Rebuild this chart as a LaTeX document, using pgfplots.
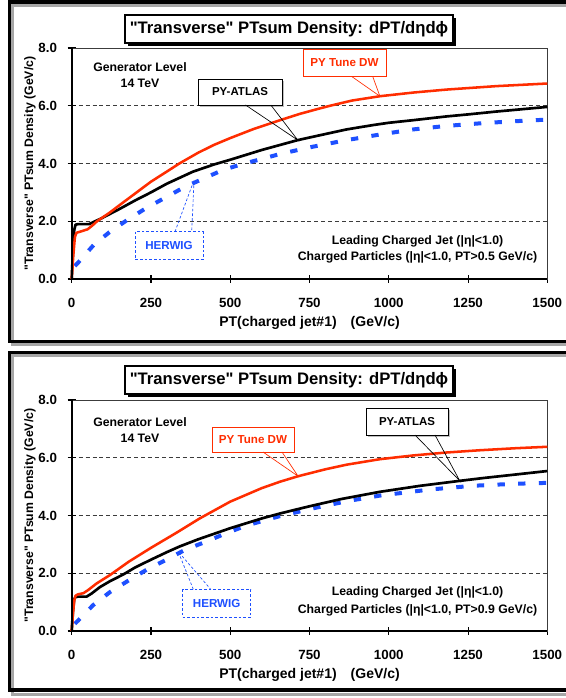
\documentclass[border=0pt]{standalone}
\usepackage{pgfplots}
\pgfplotsset{compat=1.18}
\usepackage{fontspec}
\setmainfont{Liberation Sans}[Ligatures=TeXOff]
\definecolor{dwred}{RGB}{255,45,0}
\definecolor{hwblue}{RGB}{30,80,255}
\definecolor{gridgray}{RGB}{60,60,60}

\pgfplotsset{
  ptaxis/.style={
    scale only axis,
    width=356.7pt, height=173.25pt,
    xmin=0, xmax=1500, ymin=0, ymax=8,
    xtick={0,250,500,750,1000,1250,1500},
    ytick={0,2,4,6,8},
    /pgf/number format/assume math mode=true,
    yticklabel style={/pgf/number format/fixed, /pgf/number format/fixed zerofill, /pgf/number format/precision=1, xshift=-4.5pt},
    xticklabel style={/pgf/number format/fixed, /pgf/number format/1000 sep={}, yshift=-8pt},
    tick label style={font=\fontsize{10}{12}\selectfont\bfseries},
    tick pos=left,
    tick align=center,
    major tick length=6pt,
    tick style={black, line width=0.8pt},
    axis line style={gridgray, line width=0.7pt},
    ymajorgrids,
    grid style={gridgray, line width=0.6pt, dash pattern=on 3pt off 2.2pt},
    xlabel={PT(charged jet\#1)\quad(GeV/c)},
    ylabel={"Transverse" PTsum Density (GeV/c)},
    xlabel style={font=\fontsize{10.5}{12}\selectfont\bfseries, at={(axis description cs:0.5,0)}, anchor=center, yshift=-33pt},
    ylabel style={font=\fontsize{9.2}{11}\selectfont\bfseries, at={([xshift=-31.3pt]axis description cs:0,0.5)}, anchor=center},
    clip=false,
    after end axis/.code={
      \draw[black, line width=1.6pt] (rel axis cs:0,1) -- (rel axis cs:0,0) -- (rel axis cs:1,0);
    },
  },
  atlas/.style={black, line width=2pt, line join=round},
  dw/.style={dwred, line width=1.9pt, line join=round},
  herwig/.style={hwblue, line width=3pt, dash pattern=on 5.5pt off 10pt},
}

\begin{document}
\begin{tikzpicture}[x=0.75pt,y=0.75pt]
\useasboundingbox (0,0) rectangle (566,698);
\fill[white] (0,0) rectangle (566,698);

% panel frames
\draw[gray!70, line width=2.6pt] (12.5,693) rectangle (580,353.5);
\draw[black, line width=2.8pt] (9.5,696.2) rectangle (578,356.5);
\draw[gray!70, line width=2.6pt] (12.5,342.5) rectangle (580,3.5);
\draw[black, line width=2.8pt] (9.5,345.5) rectangle (578,8);

% ---------------- top panel ----------------
\begin{axis}[ptaxis, at={(53.775pt,314.25pt)}, anchor=south west]
\addplot[herwig] coordinates {
(10,0.45) (23,0.6) (71,1.2) (119,1.62) (176,2.05) (234,2.45) (292,2.8) (355,3.18)
(418,3.49) (478,3.78) (541,3.99) (604,4.17) (657,4.33) (760,4.58) (867,4.81)
(970,5.0) (1077,5.18) (1180,5.3) (1287,5.39) (1390,5.46) (1500,5.52)};
\addplot[atlas] coordinates {
(0,0) (4,1.0) (8,1.7) (12,1.88) (20,1.9) (55,1.9) (70,1.98) (90,2.08) (120,2.25)
(150,2.42) (200,2.72) (250,3.0) (300,3.3) (383,3.72) (450,3.97) (500,4.13) (600,4.47)
(713,4.81) (800,5.02) (867,5.18) (950,5.33) (1000,5.41) (1077,5.5) (1182,5.63)
(1250,5.7) (1340,5.8) (1420,5.88) (1500,5.96)};
\addplot[dw] coordinates {
(0,0) (5,0.8) (10,1.45) (15,1.6) (30,1.65) (50,1.72) (65,1.85) (80,2.0) (120,2.3)
(150,2.55) (200,2.96) (250,3.37) (300,3.72) (341,4.01) (400,4.38) (450,4.65) (500,4.88)
(575,5.2) (657,5.5) (720,5.72) (780,5.9) (815,6.0) (884,6.18) (972,6.33) (1080,6.46)
(1182,6.56) (1340,6.68) (1500,6.77)};
\coordinate (tDW1) at (axis cs:972,6.33);
\coordinate (tAT1) at (axis cs:713,4.81);
\coordinate (tHW1) at (axis cs:386,3.43);
\end{axis}

% title box top
\fill[black] (128,680) rectangle (456,652);
\filldraw[fill=white, draw=black, line width=0.8pt] (125,683) rectangle (453,655);
\node at (289,668.5) {\fontsize{12.5}{15}\selectfont\bfseries "Transverse" PTsum Density: dPT/dηdϕ};

\node at (140,631) {\fontsize{9.2}{11}\selectfont\bfseries Generator Level};
\node at (140,615) {\fontsize{9.2}{11}\selectfont\bfseries 14 TeV};
\node at (417.5,457) {\fontsize{9.2}{11}\selectfont\bfseries Leading Charged Jet (|η|<1.0)};
\node at (417.5,441) {\fontsize{9.2}{11}\selectfont\bfseries Charged Particles (|η|<1.0, PT>0.5 GeV/c)};

% callouts top
\filldraw[fill=white, draw=dwred, line width=0.6pt] (303,648.5) rectangle (386,621.5);
\node[text=dwred] at (344.5,635) {\fontsize{8.7}{10}\selectfont\bfseries PY Tune DW};
\draw[dwred, line width=0.5pt] (351.7,621.5) -- (tDW1) -- (372.7,621.5);

\fill[gray!50] (200,617) rectangle (284,591);
\filldraw[fill=white, draw=black, line width=0.6pt] (198,619) rectangle (282,593);
\node at (240,606) {\fontsize{8.6}{10}\selectfont\bfseries PY-ATLAS};
\draw[black, line width=0.5pt] (245.5,593) -- (tAT1) -- (270.8,593);

\filldraw[fill=white, draw=hwblue, line width=0.6pt, dash pattern=on 2pt off 1.5pt] (135,466.3) rectangle (203,438.7);
\node[text=hwblue] at (169,452.5) {\fontsize{8.7}{10}\selectfont\bfseries HERWIG};
\draw[hwblue, line width=0.5pt, dash pattern=on 2pt off 1.5pt] (175,466.3) -- (tHW1) -- (191.7,466.3);

% ---------------- bottom panel ----------------
\begin{axis}[ptaxis, at={(53.775pt,50.25pt)}, anchor=south west]
\addplot[herwig] coordinates {
(10,0.25) (21,0.37) (68,0.9) (121,1.35) (178,1.74) (236,2.12) (299,2.47) (357,2.81)
(425,3.1) (488,3.39) (551,3.65) (614,3.85) (657,3.98) (762,4.25) (870,4.5) (972,4.69)
(1130,4.9) (1266,5.03) (1400,5.1) (1500,5.13)};
\addplot[atlas] coordinates {
(0,0) (4,0.7) (8,1.1) (12,1.18) (20,1.19) (47,1.19) (63,1.3) (89,1.52) (120,1.72)
(163,1.96) (200,2.2) (250,2.47) (300,2.73) (341,2.93) (400,3.18) (500,3.56) (600,3.9)
(657,4.07) (720,4.24) (762,4.35) (850,4.57) (972,4.82) (1100,5.03) (1224,5.2)
(1300,5.3) (1392,5.41) (1500,5.54)};
\addplot[dw] coordinates {
(0,0) (4,0.6) (8,1.05) (12,1.22) (20,1.27) (37,1.31) (52,1.42) (79,1.65) (121,1.94)
(180,2.4) (250,2.88) (330,3.4) (404,3.9) (500,4.48) (600,4.95) (657,5.17) (714,5.36)
(800,5.6) (867,5.76) (972,5.95) (1077,6.08) (1180,6.18) (1287,6.26) (1400,6.33) (1500,6.38)};
\coordinate (tDW2) at (axis cs:714,5.36);
\coordinate (tAT2) at (axis cs:1224,5.2);
\coordinate (tHW2) at (axis cs:336,2.75);
\end{axis}

\fill[black] (128,329) rectangle (456,301);
\filldraw[fill=white, draw=black, line width=0.8pt] (125,332) rectangle (453,304);
\node at (289,317.5) {\fontsize{12.5}{15}\selectfont\bfseries "Transverse" PTsum Density: dPT/dηdϕ};

\node at (140,276) {\fontsize{9.2}{11}\selectfont\bfseries Generator Level};
\node at (140,260) {\fontsize{9.2}{11}\selectfont\bfseries 14 TeV};
\node at (417.5,106) {\fontsize{9.2}{11}\selectfont\bfseries Leading Charged Jet (|η|<1.0)};
\node at (417.5,88) {\fontsize{9.2}{11}\selectfont\bfseries Charged Particles (|η|<1.0, PT>0.9 GeV/c)};

\filldraw[fill=white, draw=dwred, line width=0.6pt] (212,271) rectangle (294,246);
\node[text=dwred] at (253,258.5) {\fontsize{8.7}{10}\selectfont\bfseries PY Tune DW};
\draw[dwred, line width=0.5pt] (263,246) -- (tDW2) -- (282,246);

\fill[gray!50] (368,288) rectangle (450,261);
\filldraw[fill=white, draw=black, line width=0.6pt] (366,290) rectangle (448,263);
\node at (407,276.5) {\fontsize{8.6}{10}\selectfont\bfseries PY-ATLAS};
\draw[black, line width=0.5pt] (415,263) -- (tAT2) -- (435,263);

\filldraw[fill=white, draw=hwblue, line width=0.6pt, dash pattern=on 2pt off 1.5pt] (182.7,108.7) rectangle (250.7,80.7);
\node[text=hwblue] at (216.7,94.7) {\fontsize{8.7}{10}\selectfont\bfseries HERWIG};
\draw[hwblue, line width=0.5pt, dash pattern=on 2pt off 1.5pt] (193.3,108.7) -- (tHW2) -- (210.7,108.7);
\end{tikzpicture}
\end{document}
